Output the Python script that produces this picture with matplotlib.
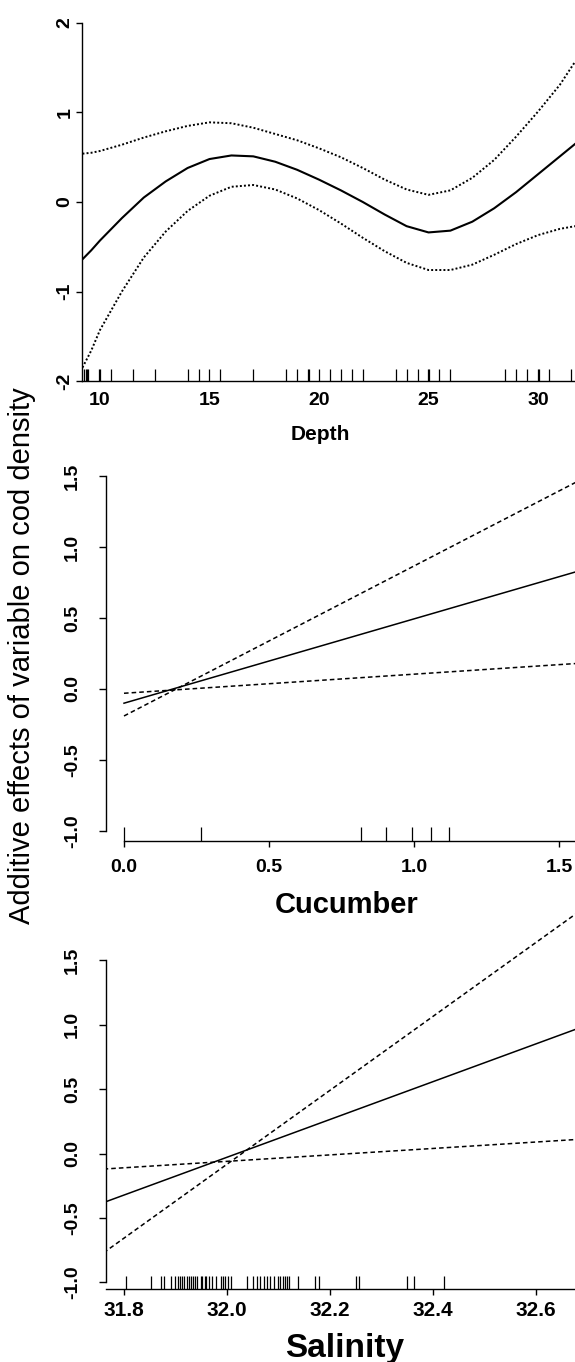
import matplotlib
matplotlib.use("Agg")
import matplotlib.pyplot as plt

plt.rcParams["font.family"] = ["Liberation Sans", "DejaVu Sans"]

W, H = 575, 1362

# --- Depth panel (smooth term with +/- 2 SE) ---
depth_x = [9.2, 9.6, 10, 11, 12, 13, 14, 15, 16, 17, 18, 19, 20, 21, 22, 23, 24, 25, 26, 27, 28, 29, 30, 31, 31.7]
depth_fit = [-0.64, -0.54, -0.43, -0.18, 0.05, 0.23, 0.38, 0.48, 0.52, 0.51, 0.45, 0.36, 0.25, 0.13, 0.0,
             -0.14, -0.27, -0.34, -0.32, -0.22, -0.07, 0.11, 0.31, 0.51, 0.65]
depth_upper = [0.54, 0.55, 0.57, 0.64, 0.72, 0.79, 0.85, 0.89, 0.88, 0.83, 0.76, 0.69, 0.60, 0.50, 0.38,
               0.25, 0.14, 0.08, 0.13, 0.27, 0.47, 0.73, 1.01, 1.31, 1.57]
depth_lower = [-1.85, -1.66, -1.43, -1.0, -0.62, -0.33, -0.10, 0.07, 0.17, 0.19, 0.14, 0.04, -0.09, -0.24,
               -0.40, -0.55, -0.68, -0.76, -0.76, -0.70, -0.59, -0.47, -0.37, -0.30, -0.27]
depth_rug = [9.28, 9.35, 9.39, 9.44, 9.95, 10.0, 10.5, 11.5, 12.5, 14.0, 14.5, 15.0, 15.5, 17.0, 18.5,
             19.0, 19.48, 19.53, 20.0, 20.5, 21.0, 21.5, 22.0, 23.5, 24.0, 24.5, 24.98, 25.03, 25.5,
             26.0, 28.5, 29.0, 29.5, 29.98, 30.03, 30.5, 31.5]
depth_ticks = [10, 15, 20, 25, 30]
depth_yticks = [-2, -1, 0, 1, 2]

# --- Cucumber panel (linear term) ---
cucumber_x = [0.0, 1.6]
cucumber_fit = [-0.10, 0.85]
cucumber_upper = [-0.19, 1.50]
cucumber_lower = [-0.03, 0.185]
cucumber_rug = [0.0, 0.267, 0.816, 0.905, 0.992, 1.06, 1.12]
cucumber_ticks = [0.0, 0.5, 1.0, 1.5]

# --- Salinity panel (linear term) ---
salinity_x = [31.76, 32.68]
salinity_fit = [-0.38, 0.97]
salinity_upper = [-0.77, 1.87]
salinity_lower = [-0.12, 0.11]
salinity_rug = [31.803, 31.852, 31.871, 31.877, 31.891, 31.899, 31.904, 31.908, 31.913, 31.917, 31.921,
                31.926, 31.930, 31.934, 31.938, 31.942, 31.949, 31.952, 31.956, 31.959, 31.965, 31.970,
                31.978, 31.987, 31.991, 31.995, 32.002, 32.007, 32.038, 32.051, 32.057, 32.064, 32.071,
                32.077, 32.083, 32.091, 32.099, 32.103, 32.108, 32.112, 32.116, 32.120, 32.138, 32.170,
                32.179, 32.250, 32.255, 32.350, 32.363, 32.421]
salinity_ticks = [31.8, 32.0, 32.2, 32.4, 32.6]

effect_ticks = [-1.0, -0.5, 0.0, 0.5, 1.0, 1.5]


def add_axes(fig, left, top, right, bottom):
    # pixel box -> figure fraction
    return fig.add_axes([left / W, 1 - bottom / H, (right - left) / W, (bottom - top) / H])


def style_axes(ax, ybounds, xbounds):
    for s in ["top", "right"]:
        ax.spines[s].set_visible(False)
    ax.spines["left"].set_bounds(*ybounds)
    ax.spines["bottom"].set_bounds(*xbounds)
    for s in ["left", "bottom"]:
        ax.spines[s].set_linewidth(1.0)


def bold_rotated(ax):
    for lab in ax.get_xticklabels() + ax.get_yticklabels():
        lab.set_fontweight("bold")
    for lab in ax.get_yticklabels():
        lab.set_rotation(90)
        lab.set_va("center")


def rug(ax, xs, height_px, ax_height_px):
    ax.vlines(xs, 0, height_px / ax_height_px, transform=ax.get_xaxis_transform(),
              color="black", lw=0.9, clip_on=False)


fig = plt.figure(figsize=(W / 100, H / 100), dpi=100)

# Depth
ax1 = add_axes(fig, 82, 23, 575, 381)
ax1.plot(depth_x, depth_fit, color="black", lw=1.5)
ax1.plot(depth_x, depth_upper, color="black", lw=1.4, ls=(0, (1, 1.1)))
ax1.plot(depth_x, depth_lower, color="black", lw=1.4, ls=(0, (1, 1.1)))
rug(ax1, depth_rug, 12, 358)
ax1.set_xlim(10 + (82 - 100) / 21.9, 10 + (575 - 100) / 21.9)
ax1.set_ylim(-2, 2)
ax1.set_xticks(depth_ticks, labels=[str(t) for t in depth_ticks])
ax1.set_yticks(depth_yticks, labels=[str(t) for t in depth_yticks])
style_axes(ax1, (-2, 2), ax1.get_xlim())
ax1.tick_params(axis="x", length=0, pad=8, labelsize=14)
ax1.tick_params(axis="y", length=4, width=1.0, pad=2, labelsize=14)
bold_rotated(ax1)

# Cucumber
ax2 = add_axes(fig, 106, 460, 575, 841)
ax2.plot(cucumber_x, cucumber_fit, color="black", lw=1.1)
ax2.plot(cucumber_x, cucumber_upper, color="black", lw=1.1, ls=(0, (3, 2)))
ax2.plot(cucumber_x, cucumber_lower, color="black", lw=1.1, ls=(0, (3, 2)))
rug(ax2, cucumber_rug, 14, 381)
ax2.set_xlim((106 - 124) / 290, (575 - 124) / 290)
ax2.set_ylim((689 - 841) / 142, (689 - 460) / 142)
ax2.set_xticks(cucumber_ticks, labels=[f"{t:.1f}" for t in cucumber_ticks])
ax2.set_yticks(effect_ticks, labels=[f"{t:.1f}" for t in effect_ticks])
style_axes(ax2, (-1.0, 1.5), (0.0, ax2.get_xlim()[1]))
ax2.tick_params(axis="x", length=4, width=1.0, pad=9, labelsize=14)
ax2.tick_params(axis="y", length=5, width=1.0, pad=13, labelsize=14)
bold_rotated(ax2)

# Salinity
ax3 = add_axes(fig, 106, 900, 575, 1289)
ax3.plot(salinity_x, salinity_fit, color="black", lw=1.1)
ax3.plot(salinity_x, salinity_upper, color="black", lw=1.1, ls=(0, (3, 2)))
ax3.plot(salinity_x, salinity_lower, color="black", lw=1.1, ls=(0, (3, 2)))
rug(ax3, salinity_rug, 13, 389)
ax3.set_xlim(32.2 + (106 - 330.2) / 515, 32.2 + (575 - 330.2) / 515)
ax3.set_ylim((1153.6 - 1289) / 128.8, (1153.6 - 900) / 128.8)
ax3.set_xticks(salinity_ticks, labels=[f"{t:.1f}" for t in salinity_ticks])
ax3.set_yticks(effect_ticks, labels=[f"{t:.1f}" for t in effect_ticks])
style_axes(ax3, (-1.0, 1.5), ax3.get_xlim())
ax3.tick_params(axis="x", length=4, width=1.0, pad=5, labelsize=15)
ax3.tick_params(axis="y", length=5, width=1.0, pad=13, labelsize=14)
bold_rotated(ax3)

# axis titles
fig.text(320 / W, 1 - 435 / H, "Depth", ha="center", va="center", fontsize=15, fontweight="bold")
fig.text(347 / W, 1 - 905 / H, "Cucumber", ha="center", va="center", fontsize=21, fontweight="bold")
fig.text(345 / W, 1 - 1348 / H, "Salinity", ha="center", va="center", fontsize=24, fontweight="bold")
fig.text(22 / W, 1 - 656 / H, "Additive effects of variable on cod density", rotation=90,
         ha="center", va="center", fontsize=21)

fig.savefig("out.png", dpi=100)
plt.close(fig)
